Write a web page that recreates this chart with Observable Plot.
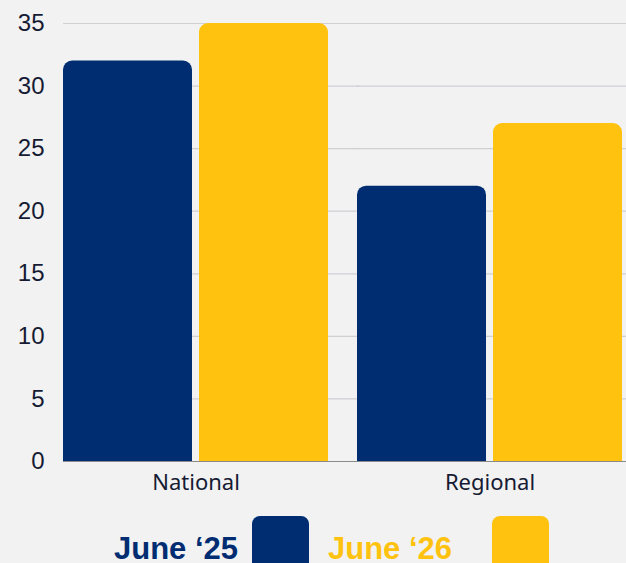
<!DOCTYPE html>
<html>
<head>
<meta charset="utf-8">
<script src="https://cdn.jsdelivr.net/npm/d3@7"></script>
<script src="https://cdn.jsdelivr.net/npm/@observablehq/plot@0.6"></script>
<style>
  html, body { margin: 0; padding: 0; background: #f2f2f2; width: 626px; height: 563px; overflow: hidden; }
  #chart svg { display: block; background: #f2f2f2; overflow: visible; }
  .legend { position: relative; height: 63px; font-family: "Liberation Sans", Arial, sans-serif; font-weight: 700; }
  .legend .lab { position: absolute; font-size: 31px; line-height: 1; top: 33px; white-space: nowrap; }
  .legend .sw { position: absolute; top: 16px; width: 57px; height: 57px; border-radius: 8px; }
</style>
</head>
<body>
<div id="chart"></div>
<div class="legend" id="legend"></div>
<script>
const regions = ["National", "Regional"];
const periods = ["June ‘25", "June ‘26"];
const june25 = [32, 22];
const june26 = [35, 27];
const yTicks = [0, 5, 10, 15, 20, 25, 30, 35];
const colors = ["#002D72", "#FFC20E"];

const data = regions.flatMap((r, i) => [
  {region: r, period: periods[0], value: june25[i]},
  {region: r, period: periods[1], value: june26[i]}
]);

const chart = Plot.plot({
  width: 626,
  height: 500,
  marginLeft: 62,
  marginRight: 4,
  marginTop: 23,
  marginBottom: 39,
  style: {background: "#f2f2f2", fontFamily: "'Liberation Sans', Arial, sans-serif", fontSize: "24px", color: "#161b33"},
  fx: {domain: regions, paddingInner: 0.1, paddingOuter: 0, label: null},
  x: {domain: periods, paddingInner: 0.052, paddingOuter: 0, axis: null},
  y: {domain: [0, 35], ticks: yTicks, label: null},
  color: {domain: periods, range: colors},
  marks: [
    Plot.ruleY(yTicks.filter(d => d > 0), {stroke: "#cfcfd4", strokeWidth: 1.2, insetLeft: 0, insetRight: -31}),
    Plot.barY(data, {fx: "region", x: "period", y: "value", fill: "period", rx: 9}),
    Plot.barY(data, {fx: "region", x: "period", y: "value", fill: "period", insetTop: 12}),
    Plot.ruleY([0], {stroke: "#8a8a8a", strokeWidth: 1, insetRight: -31}),
    Plot.axisY({ticks: yTicks, tickSize: 0, tickPadding: 19, fontSize: 24, label: null}),
    Plot.axisFx({anchor: "bottom", tickSize: 0, tickPadding: 13, fontSize: 22, label: null, fontFamily: "'Noto Sans', sans-serif", letterSpacing: "0.8px"})
  ]
});
document.getElementById("chart").appendChild(chart);

const legend = document.getElementById("legend");
const pos = [{t: 114, s: 252}, {t: 328, s: 492}];
periods.forEach((p, i) => {
  const lab = document.createElement("div");
  lab.className = "lab";
  lab.textContent = p;
  lab.style.left = pos[i].t + "px";
  lab.style.color = colors[i];
  legend.appendChild(lab);
  const sw = document.createElement("div");
  sw.className = "sw";
  sw.style.left = pos[i].s + "px";
  sw.style.background = colors[i];
  legend.appendChild(sw);
});
</script>
</body>
</html>
